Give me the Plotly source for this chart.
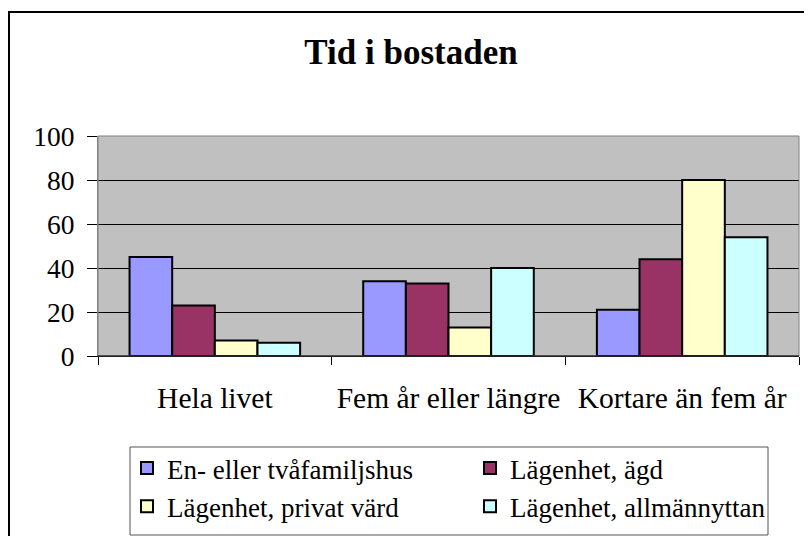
import plotly.graph_objects as go

categories = ["Hela livet", "Fem år eller längre", "Kortare än fem år"]
series_names = ["En- eller tvåfamiljshus", "Lägenhet, ägd", "Lägenhet, privat värd", "Lägenhet, allmännyttan"]
en_tva = [45, 34, 21]
lgh_agd = [23, 33, 44]
lgh_privat = [7, 13, 80]
lgh_allman = [6, 40, 54]
colors = ["#9999FF", "#993366", "#FFFFCC", "#CCFFFF"]
y_ticks = [0, 20, 40, 60, 80, 100]

# page body has an 8px margin, so figure coords = screen coords - 8
OFF = 8
W, H = 812 - OFF, 536 - OFF
L, R, T, B = 98 - OFF, 799 - OFF, 136 - OFF, 356 - OFF
pw, ph = R - L, B - T

def px_x(sx):
    return (sx - OFF - L) / pw

def px_y(sy):
    return (B - (sy - OFF)) / ph

font = "Liberation Serif, Times New Roman, serif"

fig = go.Figure()
for name, vals, col in zip(series_names, [en_tva, lgh_agd, lgh_privat, lgh_allman], colors):
    fig.add_trace(go.Bar(
        x=categories, y=vals, name=name,
        marker=dict(color=col, line=dict(color="black", width=2)),
    ))

fig.update_layout(
    width=W, height=H,
    margin=dict(l=L, r=W - R, t=T, b=H - B, autoexpand=False),
    paper_bgcolor="white",
    plot_bgcolor="#C0C0C0",
    barmode="group",
    bargap=0.27,
    bargroupgap=0,
    font=dict(family=font, size=27, color="black"),
    title=dict(text="<b>Tid i bostaden</b>", x=(411 - OFF) / W, xref="container", xanchor="center",
               y=1 - (52 - OFF) / H, yref="container", yanchor="middle",
               font=dict(family=font, size=35, color="black")),
    showlegend=True,
    legend=dict(
        orientation="h", xref="container", yref="container",
        x=(127 - OFF) / W, xanchor="left", y=1 - (444 - OFF) / H, yanchor="top",
        bgcolor="rgba(0,0,0,0)", borderwidth=0,
        entrywidth=298, entrywidthmode="pixels",
        font=dict(family=font, size=27, color="black"),
        traceorder="normal",
    ),
    xaxis=dict(
        showgrid=False, ticks="outside", tickson="boundaries", ticklen=8, tickcolor="black",
        showline=True, linecolor="black", linewidth=1,
        ticklabelstandoff=16,
        tickfont=dict(family=font, size=29.5, color="black"),
    ),
    yaxis=dict(
        range=[0, 100], tickvals=y_ticks, ticktext=[str(v) for v in y_ticks],
        showgrid=True, gridcolor="black", gridwidth=1,
        ticks="outside", ticklen=10, tickcolor="black",
        showline=True, linecolor="#808080", linewidth=1,
        zeroline=False,
        ticklabelstandoff=7,
        tickfont=dict(family=font, size=27.5, color="black"),
    ),
    shapes=[
        # plot area border
        dict(type="rect", xref="paper", yref="paper", x0=0, x1=1, y0=0, y1=1,
             line=dict(color="#808080", width=1), fillcolor="rgba(0,0,0,0)", layer="above"),
        dict(type="line", xref="paper", yref="paper", x0=0, x1=1, y0=0, y1=0,
             line=dict(color="black", width=1), layer="above"),
        # outer chart frame
        dict(type="rect", xref="paper", yref="paper",
             x0=px_x(OFF + 1), x1=px_x(840), y0=px_y(570), y1=px_y(12),
             line=dict(color="black", width=2), fillcolor="rgba(0,0,0,0)", layer="below"),
        # legend box
        dict(type="rect", xref="paper", yref="paper",
             x0=px_x(130), x1=px_x(768), y0=px_y(535), y1=px_y(447),
             line=dict(color="#555555", width=1), fillcolor="white", layer="above"),
    ],
)

fig.write_html("out.html")
